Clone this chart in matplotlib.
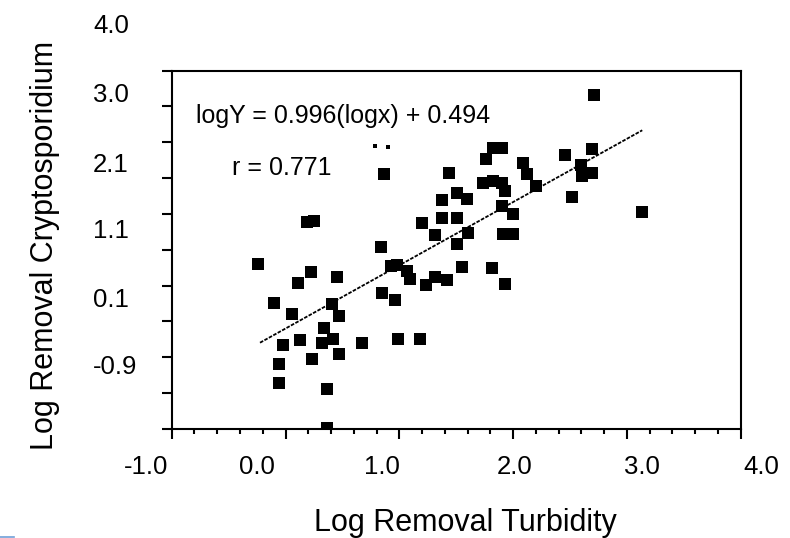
import numpy as np
import matplotlib
matplotlib.use("Agg")
import matplotlib.pyplot as plt
import matplotlib.transforms as mtransforms
from matplotlib import font_manager as fm
from matplotlib.lines import Line2D

# ---------------- data ----------------
turbidity = [-0.244, 0.192, 0.250, 0.221, 0.112, 0.450, -0.101, 0.406, 0.060, 0.473,
             0.338, 0.127, 0.318, 0.420, -0.025, 0.672, 0.236, 0.470, -0.057, -0.057,
             0.362, 0.362,
             0.866, 0.837, 0.924, 0.977, 1.065, 1.094, 0.845, 0.962, 1.232, 1.314,
             1.417, 1.548, 0.986, 1.182, 1.202, 1.314, 1.378, 1.504, 1.504, 1.606,
             1.373, 1.504, 1.592, 1.439, 1.738, 1.762, 1.826, 1.900, 1.826, 1.900,
             1.929, 1.812, 1.929, 1.900, 2.002, 1.914, 2.002, 2.090, 2.120, 2.201,
             2.714, 2.456, 2.691, 2.594, 2.608, 2.691, 2.520, 3.135]
crypto = [0.296, 0.891, 0.901, 0.193, 0.039, 0.119, -0.249, -0.254, -0.402, -0.426,
          -0.589, -0.761, -0.799, -0.743, -0.835, -0.807, -1.031, -0.961, -1.092, -1.358,
          -1.441, -1.986,
          1.553, 0.538, 0.272, 0.282, 0.203, 0.087, -0.101, -0.207, 0.003, 0.123,
          0.073, 0.258, -0.743, -0.743, 0.869, 0.701, 0.939, 0.939, 0.575, 0.737,
          1.190, 1.296, 1.204, 1.567, 1.436, 1.771, 1.925, 1.925, 1.459, 1.436,
          1.320, 0.249, 0.017, 1.110, 0.994, 0.715, 0.715, 1.715, 1.553, 1.390,
          2.661, 1.818, 1.911, 1.679, 1.529, 1.567, 1.240, 1.031]

# clipped marker fragments visible in the original
frag_x = [0.786, 0.903]
frag_y = [1.948, 1.939]

# fitted line end points
fit_x = [-0.224, 3.135]
fit_y = [-0.799, 2.168]

x_major = [-1, 0, 1, 2, 3, 4]
y_ticks = [-2.0, -1.5, -1.0, -0.5, 0.0, 0.5, 1.0, 1.5, 2.0, 2.5, 3.0]

x_tick_labels = ["-1.0", "0.0", "1.0", "2.0", "3.0", "4.0"]
y_tick_labels = ["4.0", "3.0", "2.1", "1.1", "0.1", "-0.9"]

equation_text = "logY = 0.996(logx) + 0.494"
r_text = "r = 0.771"
x_title = "Log Removal Turbidity"
y_title = "Log Removal Cryptosporidium"

# ---------------- layout (label placement as in the original) ----------------
x_label_pos = [-1.226, -0.250, 0.845, 2.017, 3.130, 4.185]
y_label_pos = [3.626, 2.663, 1.676, 0.761, -0.203, -1.138]

names = {f.name for f in fm.fontManager.ttflist}
narrow = "Liberation Sans Narrow" in names
base_font = "Liberation Sans" if "Liberation Sans" in names else "DejaVu Sans"
tick_font = "Liberation Sans Narrow" if narrow else base_font
tick_size = 20.5 if narrow else 18.5
ann_size = 21.5 if narrow else 18.0

plt.rcParams["font.family"] = [base_font, "DejaVu Sans"]

fig = plt.figure(figsize=(7.9, 5.38), dpi=100)
ax = fig.add_axes([171.7 / 790, 1 - 428.7 / 538, 569 / 790, 358 / 538])

ax.plot(turbidity, crypto, linestyle="none", marker="s", markersize=8.8,
        color="black", markeredgewidth=0)
ax.plot(frag_x, frag_y, linestyle="none", marker="s", markersize=3.0,
        color="black", markeredgewidth=0)
ax.plot(fit_x, fit_y, color="black", linewidth=1.3, linestyle=(0, (2.0, 0.8)))

ax.set_xlim(-1, 4)
ax.set_ylim(-2, 3)
ax.set_xticks(x_major)
ax.set_xticks(np.arange(-1, 4.001, 0.2), minor=True)
ax.set_yticks(y_ticks)
ax.set_xticklabels([])
ax.set_yticklabels([])
ax.tick_params(axis="x", which="major", direction="out", length=7.2, width=1.5)
ax.tick_params(axis="x", which="minor", direction="out", length=3.6, width=1.5)
ax.tick_params(axis="y", which="major", direction="out", length=7.2, width=1.5)
for s in ax.spines.values():
    s.set_linewidth(1.5)
    s.set_color("black")

tx = mtransforms.blended_transform_factory(ax.transData, ax.transAxes)
for lab, pos in zip(x_tick_labels, x_label_pos):
    ax.text(pos, -0.106, lab, transform=tx, ha="center", va="center",
            fontsize=tick_size, family=[tick_font, "DejaVu Sans"])

ty = mtransforms.blended_transform_factory(ax.transAxes, ax.transData)
for lab, pos in zip(y_tick_labels, y_label_pos):
    ax.text(-0.1383, pos, lab, transform=ty, ha="left", va="center",
            fontsize=tick_size, family=[tick_font, "DejaVu Sans"])

ax.text(0.0427, 0.8547, equation_text, transform=ax.transAxes, ha="left",
        va="baseline", fontsize=ann_size, family=[tick_font, "DejaVu Sans"])
ax.text(0.1054, 0.7078, r_text, transform=ax.transAxes, ha="left",
        va="baseline", fontsize=ann_size, family=[tick_font, "DejaVu Sans"])

ax.set_xlabel(x_title, fontsize=22, va="center")
ax.xaxis.set_label_coords(0.517, -0.263)
ax.set_ylabel(y_title, fontsize=22, va="center")
ax.yaxis.set_label_coords(-0.223, 0.513)

fig.add_artist(Line2D([0, 14 / 790], [1.5 / 538, 1.5 / 538], color="#6f9fd8",
                      linewidth=1.2, transform=fig.transFigure))

fig.savefig("out.png", dpi=100)
